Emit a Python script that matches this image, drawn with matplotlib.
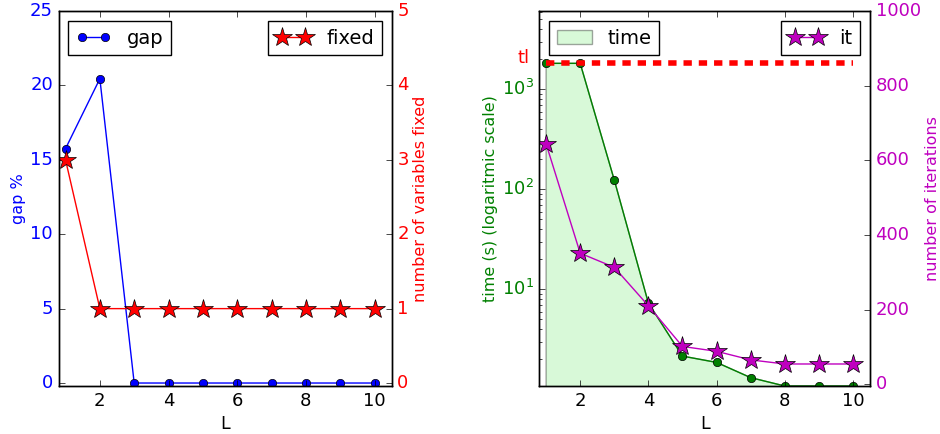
import numpy as np
import matplotlib
matplotlib.use('Agg')
import matplotlib.pyplot as plt
import matplotlib.transforms as mtransforms

plt.style.use('classic')

# data
L = [1, 2, 3, 4, 5, 6, 7, 8, 9, 10]
gap = [15.75, 20.45, 0, 0, 0, 0, 0, 0, 0, 0]
fixed = [3, 1, 1, 1, 1, 1, 1, 1, 1, 1]
time_s = [1820, 1820, 124, 7.3, 2.15, 1.86, 1.31, 1.08, 1.08, 1.08]
iters = [644, 351, 313, 210, 101, 88, 65, 54, 54, 54]
tl = 1820

LAB = 11.5

fig = plt.figure(figsize=(9.4, 4.34), dpi=100, facecolor='white')

# ---- left panel: gap / fixed
ax1 = fig.add_axes([0.0624, 0.1106, 0.3543, 0.864])
ax1.plot(L, gap, 'bo-', markersize=6, label='gap')
ax1.set_xlim(0.8, 10.5)
ax1.set_ylim(-0.2, 25)
ax1.set_xticks([2, 4, 6, 8, 10])
ax1.set_ylabel('gap %', color='b', fontsize=LAB, labelpad=3)
ax1.set_xlabel('L', fontsize=12.5, labelpad=4)
for t in ax1.get_yticklabels():
    t.set_color('b')
ax1.tick_params(labelsize=13)
ax1.legend(loc='upper left', fontsize=14, numpoints=2, handlelength=1.8)

ax2 = ax1.twinx()
ax2.plot(L, fixed, 'r*-', markersize=15, label='fixed')
ax2.set_ylim(-0.04, 5)
ax2.set_xlim(0.8, 10.5)
ax2.set_ylabel('number of variables fixed', color='r', fontsize=LAB, labelpad=3)
for t in ax2.get_yticklabels():
    t.set_color('r')
ax2.tick_params(labelsize=13)
ax2.legend(loc='upper right', fontsize=14, numpoints=2, handlelength=1.8)

# ---- right panel: time / iterations
ax3 = fig.add_axes([0.5737, 0.1106, 0.3518, 0.864])
ax3.set_yscale('log')
ax3.fill_between(L, 0.01, time_s, facecolor='lightgreen', alpha=0.35, label='time')
ax3.plot(L, time_s, 'go-', markersize=6)
ax3.plot([L[0], L[-1]], [tl, tl], 'r--', linewidth=4, dashes=(6, 5))
ax3.set_xlim(0.8, 10.5)
ax3.set_ylim(1.08, 6070)
ax3.set_xticks([2, 4, 6, 8, 10])
ax3.set_xlabel('L', fontsize=12.5, labelpad=4)
ax3.set_ylabel('time (s) (logaritmic scale)', color='g', fontsize=LAB, labelpad=3)
for t in ax3.get_yticklabels():
    t.set_color('g')
ax3.tick_params(labelsize=13)
trans = mtransforms.blended_transform_factory(ax3.transAxes, ax3.transData)
ax3.text(-0.03, tl * 1.12, 'tl', color='r', fontsize=13, ha='right', va='center', transform=trans)
ax3.legend(loc='upper left', fontsize=14, handlelength=1.8)

ax4 = ax3.twinx()
ax4.plot(L, iters, 'm*-', markersize=15, label='it')
ax4.set_ylim(-5, 1000)
ax4.set_xlim(0.8, 10.5)
ax4.set_ylabel('number of iterations', color='m', fontsize=LAB, labelpad=3)
for t in ax4.get_yticklabels():
    t.set_color('m')
ax4.tick_params(labelsize=13)
ax4.legend(loc='upper right', fontsize=14, numpoints=2, handlelength=1.8)

fig.savefig('out.png', dpi=100, facecolor='white')
